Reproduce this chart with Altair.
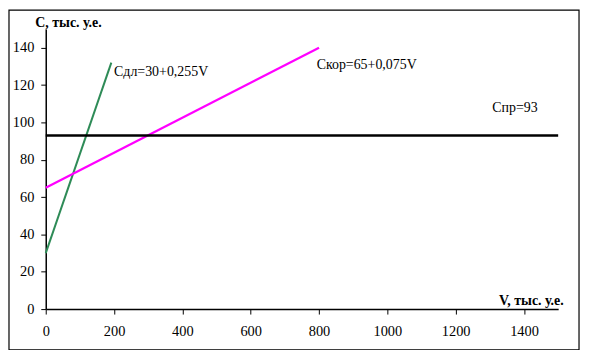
import altair as alt
import pandas as pd

# data
v_dl = [0, 192]
c_dl = [30, 132]
v_kor = [0, 800]
c_kor = [65, 140]
v_pr = [0, 1500]
c_pr = [93, 93]

label_text = ["Сдл=30+0,255V", "Скор=65+0,075V", "Спр=93"]
label_v = [200, 793, 1307]
label_c = [127, 130.5, 107.5]

x_ticks = [0, 200, 400, 600, 800, 1000, 1200, 1400]
y_ticks = [0, 20, 40, 60, 80, 100, 120, 140]

FONT = "Times New Roman, Liberation Serif, serif"

lines = pd.DataFrame({
    "V": v_dl + v_kor + v_pr,
    "C": c_dl + c_kor + c_pr,
    "s": ["dl"] * 2 + ["kor"] * 2 + ["pr"] * 2,
})
labels = pd.DataFrame({"V": label_v, "C": label_c, "t": label_text})

xs = alt.Scale(domain=[0, 1500], nice=False, zero=False)
ys = alt.Scale(domain=[0, 150], nice=False)

x_axis = alt.Axis(values=x_ticks, grid=False, title="V, тыс. у.е.", titleAngle=0, format="d",
                  titleAlign="left", titleBaseline="alphabetic", titleX=456, titleY=-5,
                  titleFont=FONT, titleFontSize=14, titleFontWeight="bold",
                  labelFont=FONT, labelFontSize=14.5, labelColor="black", labelPadding=11,
                  tickSize=5, tickColor="black", domainColor="black", domainWidth=1.5,
                  labelFlush=False)
y_axis = alt.Axis(values=y_ticks, grid=False, title="С, тыс. у.е.", titleAngle=0, format="d",
                  titleAlign="left", titleBaseline="alphabetic", titleX=-11, titleY=-3,
                  titleFont=FONT, titleFontSize=14, titleFontWeight="bold",
                  labelFont=FONT, labelFontSize=14.5, labelColor="black", labelPadding=7,
                  tickSize=5, tickColor="black", domainColor="black", domainWidth=1.5)

base = alt.Chart(lines)

line_layer = base.mark_line(clip=False).encode(
    x=alt.X("V:Q", scale=xs, axis=x_axis),
    y=alt.Y("C:Q", scale=ys, axis=y_axis),
    detail="s:N",
    color=alt.Color("s:N", scale=alt.Scale(domain=["dl", "kor", "pr"],
                                           range=["#2E8B57", "#FF00FF", "#000000"]), legend=None),
    strokeWidth=alt.StrokeWidth("s:N", scale=alt.Scale(domain=["dl", "kor", "pr"],
                                                      range=[2, 2.5, 2]), legend=None),
)

text_layer = alt.Chart(labels).mark_text(align="left", baseline="middle", font=FONT,
                                          fontSize=14, color="black").encode(
    x=alt.X("V:Q", scale=xs),
    y=alt.Y("C:Q", scale=ys),
    text="t:N",
)

border = alt.Chart(pd.DataFrame({"a": [0]})).mark_rect(
    fill=None, stroke="black", strokeWidth=1.2, clip=False
).encode(
    x=alt.value(-37), x2=alt.value(537), y=alt.value(-19), y2=alt.value(323)
)

chart = alt.layer(line_layer, text_layer, border).properties(
    width=516, height=282,
    autosize=alt.AutoSizeParams(type="none"),
    padding={"left": 38, "top": 20, "right": 24, "bottom": 40},
).configure_view(stroke=None)

chart.save("out.html", embed_options={"renderer": "svg", "actions": False})
